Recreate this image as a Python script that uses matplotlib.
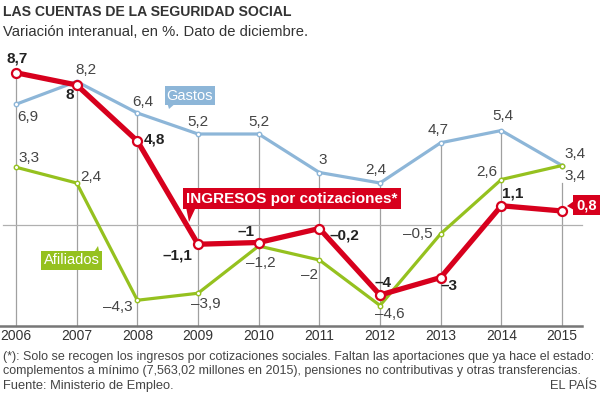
import numpy as np
import matplotlib as mpl
mpl.use('Agg')
from matplotlib import pyplot as plt
from matplotlib.patches import Polygon

plt.rcParams['font.family'] = ['Liberation Sans', 'DejaVu Sans']

years = [2006, 2007, 2008, 2009, 2010, 2011, 2012, 2013, 2014, 2015]
ingresos = [8.7, 8.0, 4.8, -1.1, -1.0, -0.2, -4.0, -3.0, 1.1, 0.8]
gastos = [6.9, 8.2, 6.4, 5.2, 5.2, 3.0, 2.4, 4.7, 5.4, 3.4]
afiliados = [3.3, 2.4, -4.3, -3.9, -1.2, -2.0, -4.6, -0.5, 2.6, 3.4]

# label offsets in pixels (dx, dy)
off_ing = [(1, 14), (-7, -10), (17, 1), (-21, -11), (-13, 10), (25, -7), (3, 12), (8, -9), (11, 12), None]
off_gas = [(12, -13), (9, 12), (5, 11), (0, 12), (0, 12), (3, 12), (-4, 13), (-3, 13), (2, 14), (13, 12)]
off_afi = [(13, 9), (14, 6), (-20, -7), (8, -11), (2, -17), (-10, -15), (10, -9), (-23, 0), (-15, 7), (13, -11)]

RED = '#d7001d'
BLUE = '#8db6d8'
GREEN = '#95c11f'

W, H = 600, 394
fig = plt.figure(figsize=(W / 100, H / 100), dpi=100)
ax = fig.add_axes([0, 0, 1, 1])
ax.axis('off')

# mapping: 2006 at x=16px, step 60.67px; zero at y=225px, 17.5px per unit
pxy = 60.67
pxu = 17.5
ax.set_xlim(2006 - 16 / pxy, 2006 + (W - 16) / pxy)
ax.set_ylim(-(H - 225) / pxu, 225 / pxu)

def fmt(v):
    s = ('%.1f' % v).rstrip('0').rstrip('.')
    return s.replace('-', '\u2013').replace('.', ',')

base = -(326 - 225) / pxu
tops = np.maximum(np.maximum(ingresos, gastos), afiliados)
for i, yr in enumerate(years):
    top = tops[i] if yr != 2015 else 2.4
    ax.plot([yr, yr], [base, top], color='#a0a0a0', lw=0.9, zorder=1)
ax.plot([2006 - 13 / pxy, 2006 + 566 / pxy], [0, 0], color='#b0b0b0', lw=0.9, zorder=1)
ax.plot([2006 - 16 / pxy, 2006 + 566 / pxy], [base, base], color='#777777', lw=1.8, zorder=1)

for yr in years:
    ax.text(yr, -(336 - 225) / pxu, str(yr), ha='center', va='center', fontsize=10, color='#333333')

ax.plot(years, gastos, color=BLUE, lw=2.3, marker='o', ms=3.2, mfc='white', mec=BLUE, mew=1, zorder=3)
ax.plot(years, afiliados, color=GREEN, lw=2.3, marker='o', ms=3.2, mfc='white', mec=GREEN, mew=1, zorder=3)
ax.plot(years, ingresos, color=RED, lw=3.8, marker='o', ms=6.5, mfc='white', mec=RED, mew=1.6, zorder=4)

for vals, offs, bold in [(gastos, off_gas, False), (afiliados, off_afi, False), (ingresos, off_ing, True)]:
    for yr, v, o in zip(years, vals, offs):
        if o is None:
            continue
        ax.annotate(fmt(v), (yr, v), xytext=o, textcoords='offset pixels', ha='center', va='center',
                    fontsize=11, color='#222222' if bold else '#444444',
                    fontweight='bold' if bold else 'normal', zorder=5)

def px2d(px, py):
    return (2006 + (px - 16) / pxy, (225 - py) / pxu)

def tag(px, py, text, color, tri, size, weight='normal', pad=0.15):
    x, y = px2d(px, py)
    ax.text(x, y, text, ha='center', va='center', fontsize=size, color='white', fontweight=weight,
            bbox=dict(boxstyle='square,pad=%s' % pad, fc=color, ec='none'), zorder=6)
    ax.add_patch(Polygon([px2d(a, b) for a, b in tri], closed=True, fc=color, ec='none', zorder=6))

tag(190, 95.5, 'Gastos', BLUE, [(167, 102), (177, 102), (169, 109)], 10.5)
tag(71.5, 260.5, 'Afiliados', GREEN, [(92, 255), (100, 255), (98, 246)], 10.5)
tag(292, 198.5, 'INGRESOS por cotizaciones*', RED, [(186, 207), (196, 207), (189, 222)], 11, 'bold', 0.2)
tag(586.5, 205, fmt(ingresos[-1]), RED, [(574, 201), (574, 210), (567, 206)], 10.5, 'bold', 0.2)

fig.text(3 / W, 1 - 12 / H, 'LAS CUENTAS DE LA SEGURIDAD SOCIAL', fontsize=10.1, fontweight='bold',
         color='#333333', va='center')
fig.text(3 / W, 1 - 32 / H, 'Variación interanual, en %. Dato de diciembre.', fontsize=10.6,
         color='#333333', va='center')
fig.text(3 / W, 1 - 357 / H, '(*): Solo se recogen los ingresos por cotizaciones sociales. Faltan las aportaciones que ya hace el estado:',
         fontsize=9, color='#444444', va='center')
fig.text(3 / W, 1 - 371 / H, 'complementos a mínimo (7,563,02 millones en 2015), pensiones no contributivas y otras transferencias.',
         fontsize=9, color='#444444', va='center')
fig.text(3 / W, 1 - 386 / H, 'Fuente: Ministerio de Empleo.', fontsize=9.3, color='#444444', va='center')
fig.text(597 / W, 1 - 386 / H, 'EL PAÍS', fontsize=9.3, color='#444444', va='center', ha='right')

fig.savefig('out.png', dpi=100)
